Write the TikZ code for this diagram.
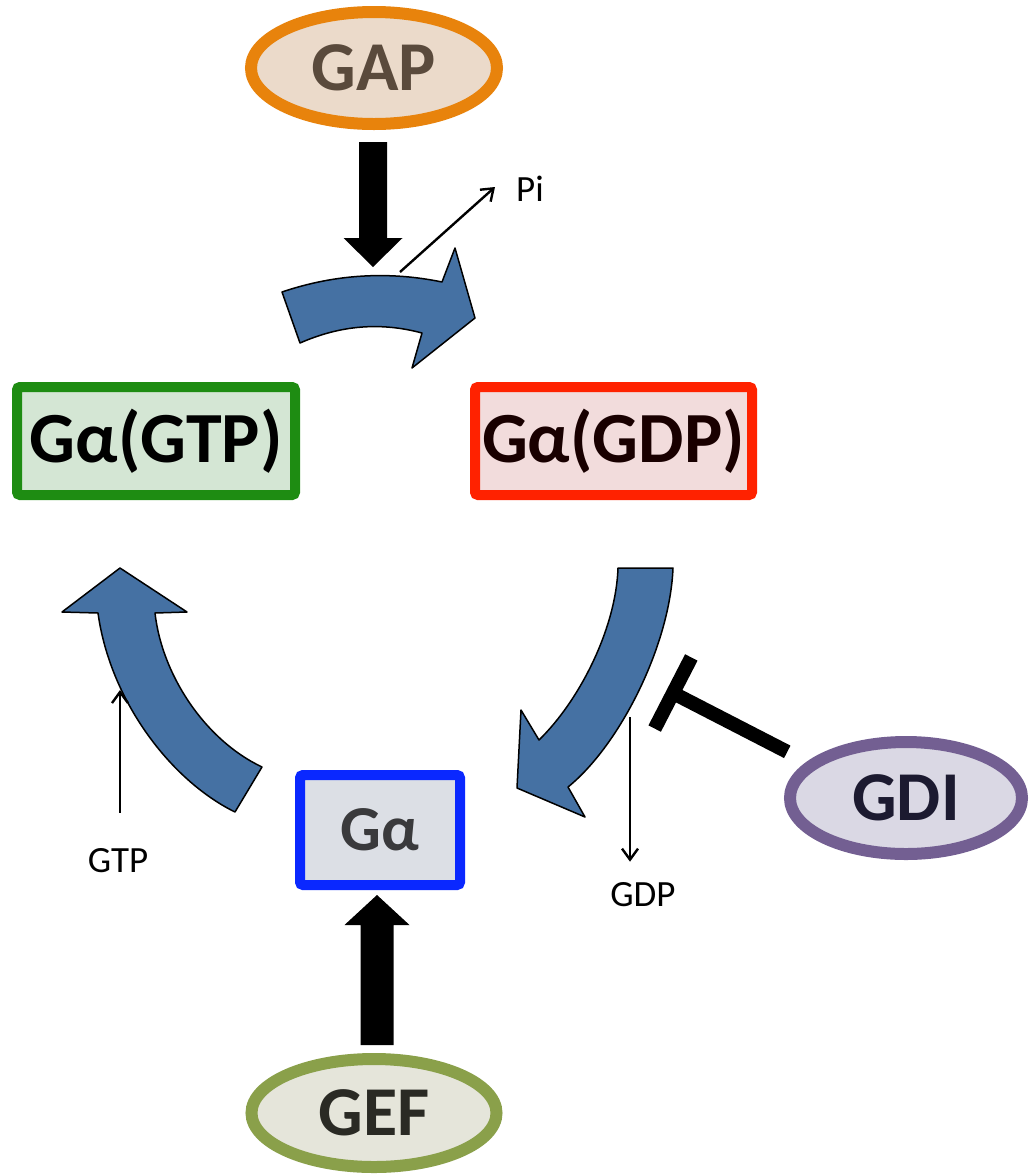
\documentclass[tikz,border=0pt]{standalone}
\usepackage{fontspec}
\setmainfont{Carlito}
\usetikzlibrary{shapes.geometric,arrows.meta,calc}

\definecolor{gapfill}{HTML}{EBDACA}
\definecolor{gapline}{HTML}{E8830C}
\definecolor{gaptext}{HTML}{5A4A3C}
\definecolor{gtpfill}{HTML}{D4E6D4}
\definecolor{gtpline}{HTML}{1E8C12}
\definecolor{gdpfill}{HTML}{F2DCDC}
\definecolor{gdpline}{HTML}{FF2200}
\definecolor{gafill}{HTML}{DCDFE5}
\definecolor{galine}{HTML}{0A28FF}
\definecolor{gatext}{HTML}{3A3A3C}
\definecolor{gdifill}{HTML}{DAD8E4}
\definecolor{gdiline}{HTML}{735F92}
\definecolor{gditext}{HTML}{1C1A30}
\definecolor{geffill}{HTML}{E5E5DA}
\definecolor{gefline}{HTML}{8AA04A}
\definecolor{geftext}{HTML}{2A2A24}
\definecolor{flowblue}{HTML}{4571A3}

\begin{document}
\begin{tikzpicture}[x=1pt,y=-1pt,
  regulator/.style={ellipse, line width=12pt, inner sep=0pt,
    font=\fontsize{70}{84}\selectfont\bfseries},
  statebox/.style={rectangle, rounded corners=3pt, line width=10pt, inner sep=0pt,
    font=\fontsize{72}{86}\selectfont\bfseries},
  flow/.style={fill=flowblue, draw=black, line width=1.5pt, line join=round},
  small/.style={inner sep=0pt, font=\fontsize{37}{44}\selectfont},
  thinarrow/.style={line width=2.4pt, -{Straight Barb[length=11pt,width=16pt]}},
  block/.style={line width=14pt}]

\useasboundingbox (0,0) rectangle (1029,1176);

% regulators
\node[regulator, draw=gapline, fill=gapfill, text=gaptext,
      minimum width=246pt, minimum height=112pt] (gap) at (374,68) {GAP};
\node[regulator, draw=gdiline, fill=gdifill, text=gditext,
      minimum width=232pt, minimum height=112pt] (gdi) at (906,798) {GDI};
\node[regulator, draw=gefline, fill=geffill, text=geftext,
      minimum width=245pt, minimum height=108pt] (gef) at (374,1113) {GEF};

% G-protein states
\node[statebox, draw=gtpline, fill=gtpfill, text=black,
      minimum width=278pt, minimum height=108pt] (gtp state) at (156,441) {Gα(GTP)};
\node[statebox, draw=gdpline, fill=gdpfill, text=black!90!red,
      minimum width=277pt, minimum height=108pt] (gdp state) at (613.5,441) {Gα(GDP)};
\node[statebox, draw=galine, fill=gafill, text=gatext,
      font=\fontsize{64}{76}\selectfont\bfseries,
      minimum width=160pt, minimum height=110pt] (free) at (380,830) {Gα};

% small molecule labels
\node[small, anchor=west] (pi) at (516,189) {Pi};
\node[small] (gtp) at (118,861) {GTP};
\node[small] (gdp) at (643,895) {GDP};

% hydrolysis: Ga(GTP) -> Ga(GDP)
\path[flow] (282,292) .. controls (335,274) and (389,271) .. (442,282)
  -- (455,248) -- (475,318) -- (412,368) -- (422,333)
  .. controls (381,322) and (341,325) .. (300,343) -- cycle;

% nucleotide release: Ga(GDP) -> Ga
\path[flow] (618,568) -- (673,568)
  .. controls (670,645) and (620,745) .. (568,787)
  -- (585,817) -- (517,788) -- (521,710) -- (539,740)
  .. controls (580,700) and (616,628) .. (618,568) -- cycle;

% GTP loading: Ga -> Ga(GTP)
\path[flow] (120,568) -- (187,612) -- (155,613)
  .. controls (162,675) and (205,740) .. (262,767)
  -- (235,812)
  .. controls (170,780) and (110,700) .. (98,613)
  -- (62,612) -- cycle;

% points where the small molecules join or leave
\coordinate (pi out) at (400,272);
\coordinate (gtp in) at (120,690);
\coordinate (gdp out) at (630,717);
\coordinate (gap tip) at (373,267);
\coordinate (gef tip) at (377,895);
\coordinate (gdi bar) at (673,693);

\draw[thinarrow] (pi out) -- ([shift={(-21,-2)}]pi.west);
\draw[thinarrow, shorten <=36pt] (gtp.north -| gtp in) -- (gtp in);
\draw[thinarrow, shorten >=21pt] (gdp out) -- (gdp.north -| gdp out);

% GAP stimulates hydrolysis
\fill let \p1=([yshift=-12pt]gap.south), \p2=(gap tip) in
  (\x2-14pt,\y1) -- (\x2-14pt,\y2+29pt) -- (\x2-29.5pt,\y2+29pt) -- (\x2,\y2)
  -- (\x2+29.5pt,\y2+29pt) -- (\x2+14pt,\y2+29pt) -- (\x2+14pt,\y1) -- cycle;

% GEF acts on free Ga
\fill let \p1=([yshift=8pt]gef.north), \p2=(gef tip) in
  (\x2-16.5pt,\y1) -- (\x2-16.5pt,\y2-30pt) -- (\x2-32.5pt,\y2-30pt) -- (\x2,\y2)
  -- (\x2+32.5pt,\y2-30pt) -- (\x2+16.5pt,\y2-30pt) -- (\x2+16.5pt,\y1) -- cycle;

% GDI blocks nucleotide release
\draw[block, shorten <=22pt] (gdi.160) -- (gdi bar);
\draw[block] ($(gdi bar)!40pt!90:(gdi.160)$) -- ($(gdi bar)!40pt!-90:(gdi.160)$);

\end{tikzpicture}
\end{document}
